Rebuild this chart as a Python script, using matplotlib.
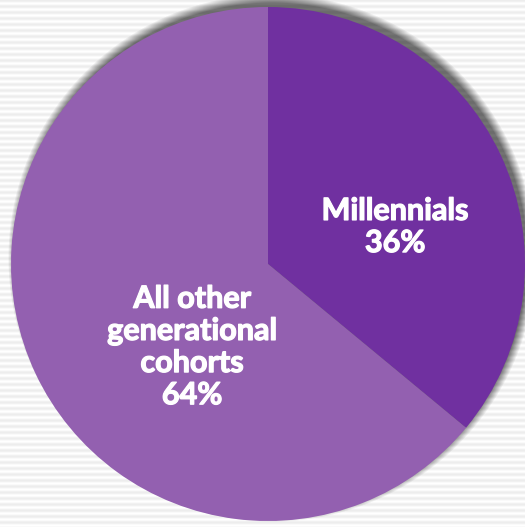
import numpy as np
import matplotlib
matplotlib.use("Agg")
import matplotlib.pyplot as plt
import matplotlib.patheffects as pe

# Share of workforce by generation
labels = ["Millennials", "All other\ngenerational\ncohorts"]
shares = [36, 64]
colors = ["#7030A0", "#9360B0"]

W, H = 525, 527
cx, cy, r = 268, 263, 257

fig = plt.figure(figsize=(W / 100, H / 100), dpi=100)
ax = fig.add_axes([0, 0, 1, 1])

# striped backdrop
yy = np.arange(H)
stripe = 0.5 + 0.5 * np.cos(2 * np.pi * yy / 6.0)
bg = np.ones((H, W, 3)) * (1 - 0.07 * stripe)[:, None, None]
ax.imshow(bg, extent=(0, W, 0, H), origin="upper", zorder=0)

# soft drop shadow below-right of the pie
gx, gy = np.meshgrid(np.arange(W) + 0.5, H - (np.arange(H) + 0.5))
d = np.hypot(gx - (cx + 4), gy - (cy - 5)) - r
shadow = np.zeros((H, W, 4))
shadow[..., 3] = 0.55 * np.clip(1 - (d + 2) / 9.0, 0, 1)
ax.imshow(shadow, extent=(0, W, 0, H), origin="lower", zorder=1)

ax.pie(shares, colors=colors, startangle=90, counterclock=False,
       center=(cx, cy), radius=r, wedgeprops=dict(linewidth=0))
for w in ax.patches:
    w.set_zorder(2)

font = dict(family="Lato", weight="bold", color="white", fontsize=22,
            ha="center", va="center", linespacing=1.18, zorder=3,
            path_effects=[pe.withStroke(linewidth=0.9, foreground="white")])
ax.text(395, H - 227, f"{labels[0]}\n{shares[0]}%", **font)
ax.text(192, H - 347, f"{labels[1]}\n{shares[1]}%", **font)

ax.set_xlim(0, W)
ax.set_ylim(0, H)
ax.set_aspect("auto")
ax.axis("off")
fig.savefig("out.png", dpi=100)
